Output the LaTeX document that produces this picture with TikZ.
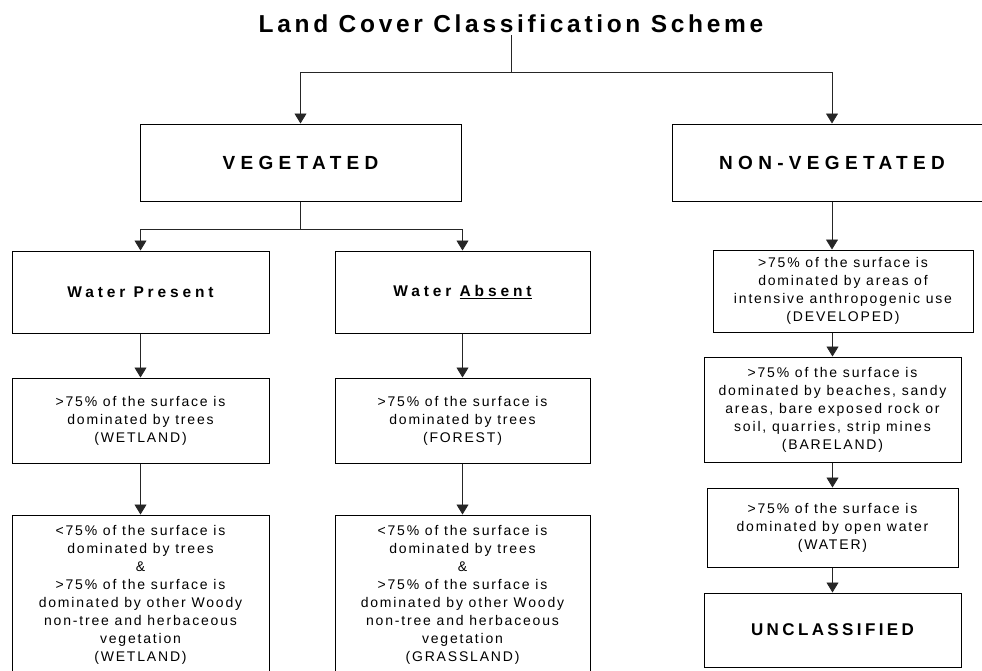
\documentclass[tikz,border=0pt]{standalone}
\usepackage{fontspec}
\setmainfont{Liberation Sans}
\newfontfamily\bodyfont[LetterSpace=13]{Liberation Sans}
\newfontfamily\headfont[LetterSpace=28]{Liberation Sans}
\newfontfamily\waterfont[LetterSpace=25]{Liberation Sans}
\newfontfamily\titlefont[LetterSpace=15]{Liberation Sans}
\newfontfamily\uncfont[LetterSpace=20]{Liberation Sans}
\usetikzlibrary{arrows.meta}
\begin{document}
\begin{tikzpicture}[x=1pt,y=-1pt,
  box/.style={draw=black, line width=1pt, inner sep=0pt, align=center},
  txt/.style={font=\bodyfont\fontsize{14}{18}\selectfont},
  hd/.style={font=\headfont\bfseries\fontsize{19}{22}\selectfont},
  wt/.style={font=\waterfont\bfseries\fontsize{15.5}{18}\selectfont},
  conn/.style={line width=0.8pt, draw=black!85},
  arr/.style={conn, -{Triangle[width=12pt,length=10pt]}}
]
\useasboundingbox (0,0) rectangle (982,670);

\node[font=\titlefont\bfseries\fontsize{24.5}{28}\selectfont, anchor=base, inner sep=3pt] (title) at (511,32) {Land Cover Classification Scheme};

\node[box, hd, minimum width=321pt, minimum height=77pt] (veg) at (300.5,162.5) {VEGETATED};
\node[box, hd, minimum width=320pt, minimum height=77pt] (nonveg) at (832,162.5) {NON-VEGETATED};

\node[box, wt, minimum width=257pt, minimum height=82pt] (wp) at (140.5,292) {Water Present};
\node[box, wt, minimum width=255pt, minimum height=82pt] (wa) at (462.5,292) {Water \underline{Absent}};

\node[box, txt, minimum width=257pt, minimum height=85pt] (t1) at (140.5,420.5) {>75\% of the surface is\\dominated by trees\\(WETLAND)};
\node[box, txt, minimum width=255pt, minimum height=85pt] (t2) at (462.5,420.5) {>75\% of the surface is\\dominated by trees\\(FOREST)};

\node[box, txt, minimum width=257pt, minimum height=160pt] (m1) at (140.5,595) {<75\% of the surface is\\dominated by trees\\\&\\>75\% of the surface is\\dominated by other Woody\\non-tree and herbaceous\\vegetation\\(WETLAND)};
\node[box, txt, minimum width=255pt, minimum height=160pt] (m2) at (462.5,595) {<75\% of the surface is\\dominated by trees\\\&\\>75\% of the surface is\\dominated by other Woody\\non-tree and herbaceous\\vegetation\\(GRASSLAND)};

\node[box, txt, minimum width=260pt, minimum height=82pt] (dev) at (843,291) {>75\% of the surface is\\dominated by areas of\\intensive anthropogenic use\\(DEVELOPED)};
\node[box, txt, minimum width=257pt, minimum height=105pt] (bare) at (832.5,409.5) {>75\% of the surface is\\dominated by beaches, sandy\\areas, bare exposed rock or\\soil, quarries, strip mines\\(BARELAND)};
\node[box, txt, minimum width=251pt, minimum height=79pt] (water) at (832.5,527.5) {>75\% of the surface is\\dominated by open water\\(WATER)};
\node[box, font=\uncfont\bfseries\fontsize{17}{20}\selectfont, minimum width=257pt, minimum height=74pt] (uncl) at (832.5,630) {UNCLASSIFIED};

\coordinate (j1) at (title.south |- 0,72);
\draw[conn] (title.south) -- (j1);
\draw[arr] (j1) -| (veg);
\draw[arr] (j1) -| (nonveg);

\coordinate (j2) at (veg.south |- 0,229);
\draw[conn] (veg) -- (j2);
\draw[arr] (j2) -| (wp);
\draw[arr] (j2) -| (wa);

\draw[arr] (wp) -- (t1);
\draw[arr] (wa) -- (t2);
\draw[arr] (t1) -- (m1);
\draw[arr] (t2) -- (m2);

\draw[arr] (nonveg) -- (nonveg |- dev.north);
\draw[arr] (dev.south -| bare) -- (bare);
\draw[arr] (bare) -- (water);
\draw[arr] (water) -- (uncl);
\end{tikzpicture}
\end{document}
